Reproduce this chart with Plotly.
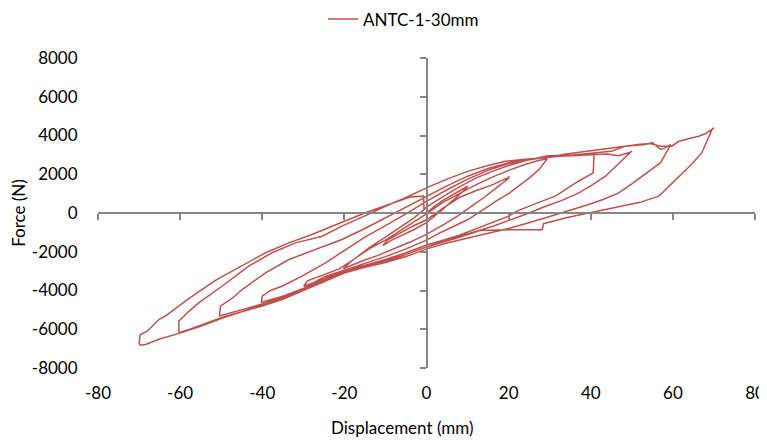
import plotly.graph_objects as go

# hysteresis record ANTC-1-30mm, read off the chart cycle by cycle
# displacement in mm, force in N
disp_10 = [0, 2, 4, 6, 8, 10, 9.6, 10.1, 8, 6, 4, 2, 0, -3, -6, -8.5, -10.6]
force_10 = [0, 350, 650, 900, 1150, 1380, 1300, 1370, 950, 550, 200, -150, -500, -850, -1150, -1400, -1680]

disp_20 = [-9.5, -7, -4, 0, 4, 8, 12, 16, 19.6, 19.2, 20.2, 19.8, 17, 14, 11, 8, 5, 2, 0, -4, -8, -12, -16, -20.3]
force_20 = [-1400, -1100, -750, -350, 250, 800, 1150, 1450, 1800, 1650, 1900, 1750, 1300, 800, 350, -100, -500, -850,
            -1100, -1500, -1850, -2200, -2500, -2880]

disp_30 = [-18.1, -14, -10, -7, -3, 0, 4, 8, 12, 16, 20, 24, 27, 29.4, 27.4, 25, 22.5, 20, 17.6, 15, 12.7, 10, 6, 3,
           0, -5, -10, -15, -20, -25, -29.9]
force_30 = [-2450, -1850, -1400, -1000, -450, -50, 550, 1000, 1450, 1850, 2200, 2500, 2700, 2800, 2240, 1800, 1380,
            1000, 700, 350, 0, -350, -750, -1050, -1400, -1850, -2250, -2600, -2950, -3400, -3780]

disp_40 = [-29, -25.4, -21.4, -18, -14, -10, -6, -3, 0, 4, 8, 12, 16, 20, 24, 27, 29.5, 40.8, 40.6, 37, 34, 31.4, 28,
           24.9, 22, 20, 16, 12, 8, 4, 0, -5, -10, -15, -20, -25, -30, -35, -40.2]
force_40 = [-3500, -3200, -2900, -2450, -1800, -1250, -700, -250, 300, 850, 1350, 1800, 2150, 2450, 2700, 2850, 2950,
            3020, 2070, 1640, 1250, 870, 600, 350, 100, -160, -500, -850, -1150, -1400, -1650, -2050, -2400, -2700,
            -2950, -3300, -3900, -4300, -4600]

disp_50 = [-40, -38, -35.2, -30.3, -24.6, -19.7, -15, -10, -5, 0, 5, 10, 15, 20, 25, 30, 35, 40, 44, 46.8, 49.7, 49,
           50, 49.5, 47, 43.6, 40, 37.1, 33, 29, 25, 20.8, 16, 12, 8, 4, 0, -5, -10, -15, -20, -25, -30, -35, -40,
           -45, -50.4]
force_50 = [-4290, -4000, -3780, -3260, -2570, -1880, -1250, -650, -50, 600, 1200, 1750, 2200, 2550, 2750, 2900, 2950,
            3000, 3050, 2950, 3140, 3000, 3200, 3100, 2600, 1900, 1400, 1040, 650, 350, 0, -340, -700, -950, -1200,
            -1450, -1750, -2150, -2450, -2750, -3000, -3450, -3900, -4350, -4700, -5000, -5320]

disp_60 = [-50.2, -47, -44.9, -39.2, -33.5, -27, -20.6, -15, -10, -5, 0, 5, 10, 15, 20, 25, 30, 35, 40, 45, 48.5,
           53.3, 55, 56.2, 57, 58, 59.5, 57, 54.5, 52.5, 50, 46.8, 43, 39.5, 36, 33, 29, 24.9, 20, 15, 10, 5, 0, -5,
           -10, -15, -20, -25, -30, -35, -40, -45, -50, -55, -57.8, -60.3]
force_60 = [-4810, -4350, -3950, -3090, -2400, -1880, -1370, -800, -250, 300, 850, 1400, 1900, 2300, 2600, 2780, 2880,
            2980, 3080, 3190, 3450, 3530, 3640, 3400, 3280, 3350, 3530, 2600, 2200, 1900, 1500, 1040, 700, 440, 200,
            0, -250, -500, -800, -1050, -1300, -1550, -1850, -2250, -2550, -2800, -3050, -3500, -3950, -4400, -4750,
            -5100, -5400, -5800, -6010, -6180]

disp_70 = [-60.3, -58, -55.4, -49.8, -43.3, -37.6, -31.9, -25.4, -20.6, -15, -10, -5, 0, 5, 10, 15, 19.2, 24, 29, 34,
           38.7, 43, 48.5, 52, 54.5, 57, 59.7, 61.5, 64, 66.3, 68, 69.2, 70, 69.5, 68.5, 67, 64.5, 61.5, 59, 56.6, 52,
           47.6, 43, 39.5, 34, 28.5, 28.2, 20, 13, 8, 4, 0, -5, -10, -15, -20, -25, -30, -35, -40, -45, -50, -55, -60,
           -65, -68.4, -69.7]
force_70 = [-5580, -5100, -4630, -3780, -2740, -2050, -1540, -1200, -680, -150, 350, 800, 1300, 1750, 2150, 2450, 2670,
            2780, 2850, 3050, 3190, 3300, 3450, 3550, 3590, 3450, 3450, 3700, 3850, 3960, 4100, 4270, 4400, 4300, 3800,
            3100, 2500, 1900, 1350, 870, 550, 350, 150, 0, -250, -550, -860, -860, -900, -1250, -1500, -1750, -2150,
            -2500, -2800, -3100, -3550, -4000, -4450, -4800, -5100, -5450, -5850, -6200, -6500, -6790, -6820]

# last return from -70 mm, record stops just left of zero
disp_end = [-70, -69.7, -68, -65.2, -63.6, -57.9, -51.4, -44.9, -39.2, -33.5, -27.9, -20.6, -15, -10.4, -4, -0.7, -0.6]
force_end = [-6700, -6270, -6100, -5500, -5320, -4420, -3480, -2740, -2050, -1540, -1110, -480, 0, 350, 830, 870, 200]

x_ticks = [-80, -60, -40, -20, 0, 20, 40, 60, 80]
x_labels = ["-80", "-60", "-40", "-20", "0", "20", "40", "60", "80"]
y_ticks = [-8000, -6000, -4000, -2000, 0, 2000, 4000, 6000, 8000]
y_labels = ["-8000", "-6000", "-4000", "-2000", "0", "2000", "4000", "6000", "8000"]

disp = disp_10 + disp_20 + disp_30 + disp_40 + disp_50 + disp_60 + disp_70 + disp_end
force = force_10 + force_20 + force_30 + force_40 + force_50 + force_60 + force_70 + force_end

font = dict(family="Lato, 'Open Sans', sans-serif", size=17, color="#000000")
axis_grey = "#868686"

fig = go.Figure()
fig.add_trace(go.Scatter(x=disp, y=force, mode="lines", name="ANTC-1-30mm",
                         line=dict(color="#C0504D", width=1.5)))
# empty trace so the crossing axes (x2/y2) get drawn
fig.add_trace(go.Scatter(x=[], y=[], xaxis="x2", yaxis="y2", showlegend=False, hoverinfo="skip"))

# page body has an 8px margin, figure is sized to end at the window edge
fig.update_layout(
    width=759, height=437,
    margin=dict(l=90, r=12, t=50, b=77, autoexpand=False),
    plot_bgcolor="white", paper_bgcolor="white",
    font=font,
    showlegend=True,
    legend=dict(orientation="h", x=0.465, xanchor="center", y=1.124, yanchor="middle",
                font=font, bgcolor="rgba(0,0,0,0)"),
    # labels on the outer edges, no lines
    xaxis=dict(range=[-80, 80], tickvals=x_ticks, ticktext=x_labels, showgrid=False, zeroline=False,
               showline=False, automargin=False,
               ticks="outside", ticklen=10, tickcolor="rgba(0,0,0,0)", tickfont=font),
    yaxis=dict(range=[-8000, 8000], tickvals=y_ticks, ticktext=y_labels, showgrid=False, zeroline=False,
               showline=False, automargin=False,
               ticks="outside", ticklen=16, tickcolor="rgba(0,0,0,0)", tickfont=font,
               title=dict(text="Force (N)", font=font, standoff=1)),
    # axis lines crossing at the origin
    xaxis2=dict(overlaying="x", anchor="free", position=0.5, range=[-80, 80], tickvals=x_ticks,
                showgrid=False, zeroline=False, showline=True, linecolor=axis_grey, linewidth=1.5,
                ticks="outside", ticklen=6, tickcolor=axis_grey, tickwidth=1.5, showticklabels=False),
    yaxis2=dict(overlaying="y", anchor="free", position=0.5, range=[-8000, 8000], tickvals=y_ticks,
                showgrid=False, zeroline=False, showline=True, linecolor=axis_grey, linewidth=1.5,
                ticks="outside", ticklen=6, tickcolor=axis_grey, tickwidth=1.5, showticklabels=False),
    annotations=[dict(text="Displacement (mm)", xref="paper", yref="paper", x=0.464, y=-0.192,
                      xanchor="center", yanchor="middle", showarrow=False, font=font)],
)

fig.write_html("out.html")
